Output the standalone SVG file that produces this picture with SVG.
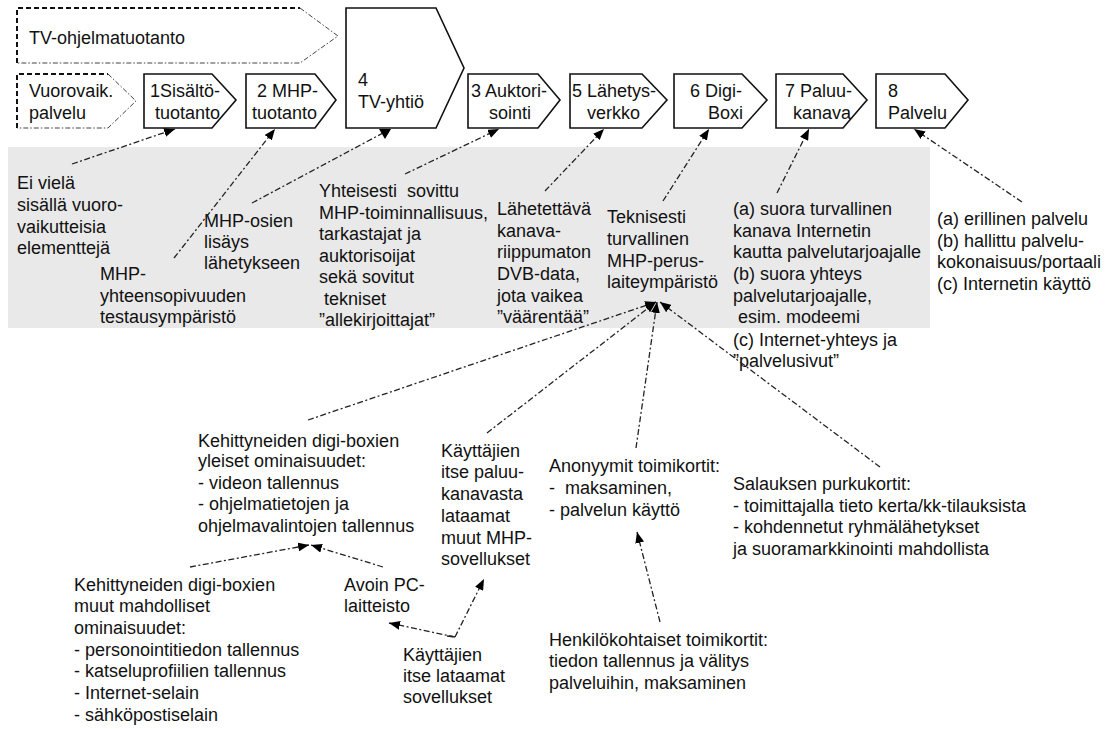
<svg xmlns="http://www.w3.org/2000/svg" width="1116" height="729" viewBox="0 0 1116 729">
  <style>
    text { font-family: "Liberation Sans", Arial, sans-serif; font-size: 18px; fill: #111; }
    .box { fill: #fff; stroke: #111; stroke-width: 1.6; }
    .dash-dark { fill: none; stroke: #111; stroke-width: 2; stroke-dasharray: 5 3; }
    .dash-light { fill: none; stroke: #444; stroke-width: 1; stroke-dasharray: 5 2 1.5 2; }
    .link { fill: none; stroke: #222; stroke-width: 1.3; stroke-dasharray: 6 2.5 2 2.5; }
    .pre { white-space: pre; }
  </style>
  <defs>
    <marker id="arrow" markerUnits="userSpaceOnUse" markerWidth="11" markerHeight="9" refX="11" refY="4.5" orient="auto">
      <path d="M0,0 L11,4.5 L0,9 z" fill="#000"/>
    </marker>
  </defs>

  <rect width="1116" height="729" fill="#fff"/>

  <!-- shaded band behind the descriptions -->
  <rect id="band" x="8" y="147" width="922" height="181" fill="#e9e9e9"/>

  <!-- dashed background process -->
  <g id="n-tv-ohjelmatuotanto">
    <path class="dash-dark" d="M17,63 L17,8 L300,8"/>
    <path class="dash-light" d="M300,8 L338,36 L300,63 L17,63"/>
    <text x="29" y="44">TV-ohjelmatuotanto</text>
  </g>
  <g id="n-vuorovaik">
    <path class="dash-dark" d="M17,128 L17,74 L108,74"/>
    <path class="dash-light" d="M108,74 L136,101 L108,128 L17,128"/>
    <text x="29" y="97">Vuorovaik.</text>
    <text x="29" y="119">palvelu</text>
  </g>

  <!-- value chain -->
  <g id="n1">
    <path class="box" d="M144,74 L212,74 L236,100 L212,128 L144,128 Z"/>
    <text x="150" y="97">1Sisältö-</text>
    <text x="155" y="119">tuotanto</text>
  </g>
  <g id="n2">
    <path class="box" d="M246,74 L315,74 L336,100 L315,128 L246,128 Z"/>
    <text x="257" y="97">2 MHP-</text>
    <text x="252" y="119">tuotanto</text>
  </g>
  <g id="n4">
    <path class="box" d="M346,8 L436,8 L464,68 L436,128 L346,128 Z"/>
    <text x="358" y="86">4</text>
    <text x="358" y="108">TV-yhtiö</text>
  </g>
  <g id="n3">
    <path class="box" d="M468,74 L538,74 L560,100 L538,128 L468,128 Z"/>
    <text x="471" y="97">3 Auktori-</text>
    <text x="489" y="119">sointi</text>
  </g>
  <g id="n5">
    <path class="box" d="M570,74 L642,74 L667,100 L642,128 L570,128 Z"/>
    <text x="572" y="97">5 Lähetys-</text>
    <text x="587" y="119">verkko</text>
  </g>
  <g id="n6">
    <path class="box" d="M674,74 L742,74 L767,100 L742,128 L674,128 Z"/>
    <text x="690" y="97">6 Digi-</text>
    <text x="708" y="119">Boxi</text>
  </g>
  <g id="n7">
    <path class="box" d="M776,74 L843,74 L867,100 L843,128 L776,128 Z"/>
    <text x="785" y="97">7 Paluu-</text>
    <text x="793" y="119">kanava</text>
  </g>
  <g id="n8">
    <path class="box" d="M876,74 L945,74 L968,100 L945,128 L876,128 Z"/>
    <text x="888" y="97">8</text>
    <text x="888" y="119">Palvelu</text>
  </g>

  <!-- descriptions in the band -->
  <g id="t-ei-viela">
    <text x="17" y="189">Ei vielä</text>
    <text x="17" y="211">sisällä vuoro-</text>
    <text x="17" y="233">vaikutteisia</text>
    <text x="17" y="254">elementtejä</text>
  </g>
  <g id="t-mhp-testaus">
    <text x="100" y="280">MHP-</text>
    <text x="100" y="302">yhteensopivuuden</text>
    <text x="100" y="323">testausympäristö</text>
  </g>
  <g id="t-mhp-osien">
    <text x="204" y="227">MHP-osien</text>
    <text x="204" y="248">lisäys</text>
    <text x="204" y="269">lähetykseen</text>
  </g>
  <g id="t-yhteisesti">
    <text class="pre" x="319" y="197">Yhteisesti  sovittu</text>
    <text x="319" y="219">MHP-toiminnallisuus,</text>
    <text x="319" y="240">tarkastajat ja</text>
    <text x="319" y="262">auktorisoijat</text>
    <text x="319" y="283">sekä sovitut</text>
    <text class="pre" x="319" y="305"> tekniset</text>
    <text x="319" y="326">”allekirjoittajat”</text>
  </g>
  <g id="t-lahetettava">
    <text x="497" y="215">Lähetettävä</text>
    <text x="497" y="237">kanava-</text>
    <text x="497" y="258">riippumaton</text>
    <text x="497" y="280">DVB-data,</text>
    <text x="497" y="302">jota vaikea</text>
    <text x="497" y="323">”väärentää”</text>
  </g>
  <g id="t-teknisesti">
    <text x="607" y="223">Teknisesti</text>
    <text x="607" y="245">turvallinen</text>
    <text x="607" y="267">MHP-perus-</text>
    <text x="607" y="288">laiteympäristö</text>
  </g>
  <g id="t-paluukanava">
    <text x="733" y="215">(a) suora turvallinen</text>
    <text x="733" y="237">kanava Internetin</text>
    <text x="733" y="258">kautta palvelutarjoajalle</text>
    <text x="733" y="280">(b) suora yhteys</text>
    <text x="733" y="302">palvelutarjoajalle,</text>
    <text class="pre" x="733" y="323"> esim. modeemi</text>
    <text x="733" y="346">(c) Internet-yhteys ja</text>
    <text x="733" y="367">”palvelusivut”</text>
  </g>
  <g id="t-palvelu">
    <text x="937" y="225">(a) erillinen palvelu</text>
    <text x="937" y="247">(b) hallittu palvelu-</text>
    <text x="937" y="268">kokonaisuus/portaali</text>
    <text x="937" y="290">(c) Internetin käyttö</text>
  </g>

  <!-- device level notes -->
  <g id="t-yleiset">
    <text x="198" y="447">Kehittyneiden digi-boxien</text>
    <text x="198" y="467">yleiset ominaisuudet:</text>
    <text x="198" y="489">- videon tallennus</text>
    <text x="198" y="510">- ohjelmatietojen ja</text>
    <text x="198" y="532">ohjelmavalintojen tallennus</text>
  </g>
  <g id="t-muut">
    <text x="74" y="591">Kehittyneiden digi-boxien</text>
    <text x="74" y="612">muut mahdolliset</text>
    <text x="74" y="634">ominaisuudet:</text>
    <text x="74" y="656">- personointitiedon tallennus</text>
    <text x="74" y="677">- katseluprofiilien tallennus</text>
    <text x="74" y="699">- Internet-selain</text>
    <text x="74" y="721">- sähköpostiselain</text>
  </g>
  <g id="t-avoin-pc">
    <text x="344" y="591">Avoin PC-</text>
    <text x="344" y="612">laitteisto</text>
  </g>
  <g id="t-paluu-sovellukset">
    <text x="441" y="457">Käyttäjien</text>
    <text x="441" y="478">itse paluu-</text>
    <text x="441" y="500">kanavasta</text>
    <text x="441" y="522">lataamat</text>
    <text x="441" y="544">muut MHP-</text>
    <text x="441" y="565">sovellukset</text>
  </g>
  <g id="t-itse-lataamat">
    <text x="403" y="661">Käyttäjien</text>
    <text x="403" y="682">itse lataamat</text>
    <text x="403" y="703">sovellukset</text>
  </g>
  <g id="t-anonyymit">
    <text x="549" y="472">Anonyymit toimikortit:</text>
    <text class="pre" x="549" y="494">-  maksaminen,</text>
    <text x="549" y="516">- palvelun käyttö</text>
  </g>
  <g id="t-henkilokohtaiset">
    <text x="549" y="646">Henkilökohtaiset toimikortit:</text>
    <text x="549" y="667">tiedon tallennus ja välitys</text>
    <text x="549" y="689">palveluihin, maksaminen</text>
  </g>
  <g id="t-salaus">
    <text x="733" y="490">Salauksen purkukortit:</text>
    <text x="733" y="512">- toimittajalla tieto kerta/kk-tilauksista</text>
    <text x="733" y="533">- kohdennetut ryhmälähetykset</text>
    <text x="733" y="555">ja suoramarkkinointi mahdollista</text>
  </g>

  <!-- connectors -->
  <g id="connectors">
    <path class="link" d="M72,164 L175,129" marker-end="url(#arrow)"/>
    <path class="link" d="M174,258 L275,129" marker-end="url(#arrow)"/>
    <path class="link" d="M252,203 L383,133"/>
    <polygon points="379,129 391,129 385,139" fill="#000"/>
    <path class="link" d="M405,174 L499,129" marker-end="url(#arrow)"/>
    <path class="link" d="M545,191 L604,129" marker-end="url(#arrow)"/>
    <path class="link" d="M663,201 L709,129" marker-end="url(#arrow)"/>
    <path class="link" d="M777,193 L809,129" marker-end="url(#arrow)"/>
    <path class="link" d="M1022,202 L914,129" marker-end="url(#arrow)"/>

    <path class="link" d="M308,420 L656,302" marker-end="url(#arrow)"/>
    <path class="link" d="M487,433 L656,302" marker-end="url(#arrow)"/>
    <path class="link" d="M636,448 L657,302" marker-end="url(#arrow)"/>
    <path class="link" d="M880,467 L660,302" marker-end="url(#arrow)"/>

    <path class="link" d="M190,567 L309,545" marker-end="url(#arrow)"/>
    <path class="link" d="M383,567 L311,545" marker-end="url(#arrow)"/>
    <path class="link" d="M455,637 L389,623" marker-end="url(#arrow)"/>
    <path class="link" d="M447,636 L455,637"/>
    <path class="link" d="M455,637 L484,579" marker-end="url(#arrow)"/>
    <path class="link" d="M660,622 L637,532" marker-end="url(#arrow)"/>
  </g>
</svg>
